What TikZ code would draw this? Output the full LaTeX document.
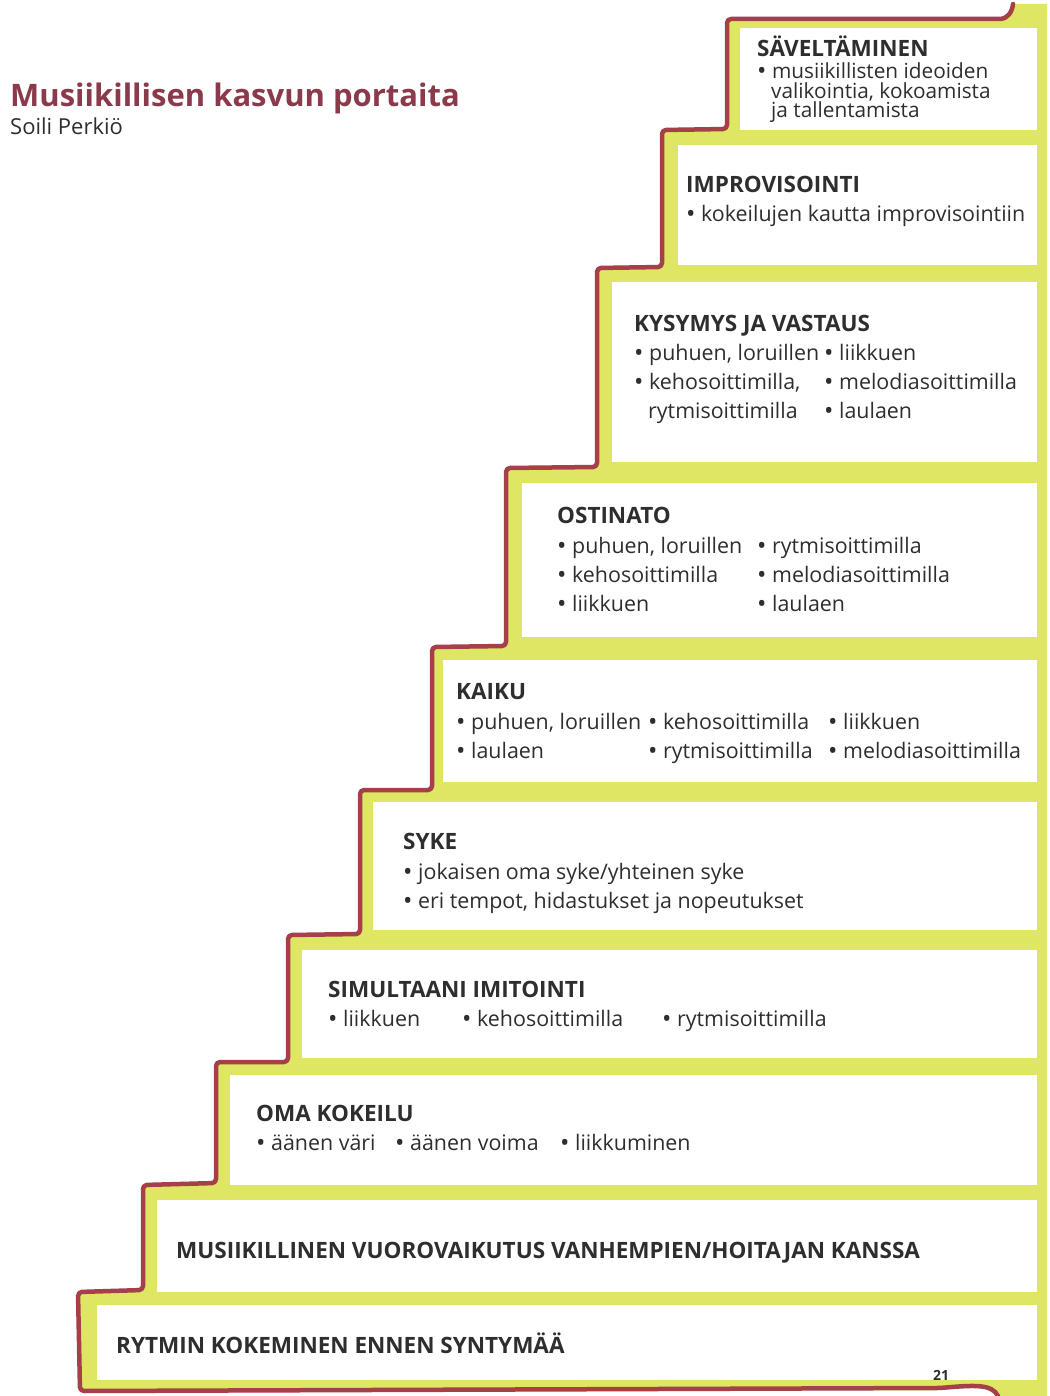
\documentclass[tikz,border=0pt]{standalone}
\usepackage{fontspec}
\setmainfont{Open Sans}
\usepackage{tikz}
\definecolor{stairyellow}{HTML}{DEE664}
\definecolor{stairred}{HTML}{A53F48}
\definecolor{titlered}{HTML}{8B3A4C}
\definecolor{ink}{HTML}{2E2E2E}
\newcommand{\stbul}{\raisebox{-1pt}{\fontsize{25}{25}\selectfont •}}
\tikzstyle{head} = [anchor=base west,inner sep=0pt,text=ink,font=\fontsize{22.5}{26}\selectfont\bfseries]
\tikzstyle{item} = [anchor=base west,inner sep=0pt,text=ink,font=\fontsize{21.4}{26}\selectfont]
\tikzstyle{itemsm} = [item,font=\fontsize{20.8}{22}\selectfont]
\tikzstyle{stepbox} = [fill=white,draw=none]
\tikzstyle{stairline} = [stairred,line width=4.5pt,line cap=round,line join=round,rounded corners=4pt]

\begin{document}
\begin{tikzpicture}[x=1pt,y=-1pt]
		\useasboundingbox (0,0) rectangle (1049,1396);
		% Yellow band behind the steps:
		\fill[stairyellow] (1047,4) -- (1047,1396) -- (998,1396)
			.. controls (992,1384) and (975,1385) .. (940,1388) -- (80,1391)
			-- (78,1292) -- (143,1290) -- (143,1185) -- (216,1183) -- (216,1062)
			-- (288,1062) -- (288,935) -- (360,934) -- (360,790) -- (432,790)
			-- (432,647) -- (506,646) -- (506,468) -- (597,467) -- (597,268)
			-- (662,267) -- (662,130) -- (727,129) -- (727,19) -- (995,19)
			.. controls (1008,19) and (1012,12) .. (1013,4) -- cycle;
		% Red hand drawn outline of the stairs:
		\draw[stairline] (998,1396)
			.. controls (992,1384) and (975,1385) .. (940,1388) -- (80,1391)
			-- (78,1292) -- (143,1290) -- (143,1185) -- (216,1183) -- (216,1062)
			-- (288,1062) -- (288,935) -- (360,934) -- (360,790) -- (432,790)
			-- (432,647) -- (506,646) -- (506,468) -- (597,467) -- (597,268)
			-- (662,267) -- (662,130) -- (727,129) -- (727,19) -- (995,19)
			.. controls (1008,19) and (1012,12) .. (1013,4);
		% White steps: left/top/bottom
		\foreach \l/\t/\b in {740/28/130,678/145/265,612/282/462,522/483/637,443/660/782,
			373/802/930,302/950/1058,230/1075/1185,157/1200/1292,97/1305/1380}{%
			\fill[stepbox] (\l,\t) rectangle (1037,\b);
		}
		
		% Title
		\node[anchor=base west,inner sep=0pt,text=titlered,font=\fontsize{31}{38}\selectfont\bfseries] (title) at (10,107) {Musiikillisen kasvun portaita};
		\node[anchor=base west,inner sep=0pt,text=ink,font=\fontsize{22}{26}\selectfont] (author) at (10,135) {Soili Perkiö};
		
		% Steps from top to bottom
		\node[head] (sav) at (757,57) {SÄVELTÄMINEN};
		\node[itemsm] (sav1) at (757,79) {\stbul\ musiikillisten ideoiden};
		\node[itemsm] (sav2) at (771,99) {valikointia, kokoamista};
		\node[itemsm] (sav3) at (771,118) {ja tallentamista};
		
		\node[head] (imp) at (686,193) {IMPROVISOINTI};
		\node[item] (imp1) at (686,222) {\stbul\ kokeilujen kautta improvisointiin};
		
		\node[head] (kys) at (634,331) {KYSYMYS JA VASTAUS};
		\node[item] (kys1) at (634,360) {\stbul\ puhuen, loruillen};
		\node[item] (kys2) at (634,389) {\stbul\ kehosoittimilla,};
		\node[item] (kys3) at (648,418) {rytmisoittimilla};
		\node[item] (kys4) at (824,360) {\stbul\ liikkuen};
		\node[item] (kys5) at (824,389) {\stbul\ melodiasoittimilla};
		\node[item] (kys6) at (824,418) {\stbul\ laulaen};
		
		\node[head] (ost) at (557,523) {OSTINATO};
		\node[item] (ost1) at (557,553) {\stbul\ puhuen, loruillen};
		\node[item] (ost2) at (557,582) {\stbul\ kehosoittimilla};
		\node[item] (ost3) at (557,611) {\stbul\ liikkuen};
		\node[item] (ost4) at (757,553) {\stbul\ rytmisoittimilla};
		\node[item] (ost5) at (757,582) {\stbul\ melodiasoittimilla};
		\node[item] (ost6) at (757,611) {\stbul\ laulaen};
		
		\node[head] (kai) at (456,699) {KAIKU};
		\node[item] (kai1) at (456,729) {\stbul\ puhuen, loruillen};
		\node[item] (kai2) at (456,758) {\stbul\ laulaen};
		\node[item] (kai3) at (648,729) {\stbul\ kehosoittimilla};
		\node[item] (kai4) at (648,758) {\stbul\ rytmisoittimilla};
		\node[item] (kai5) at (828,729) {\stbul\ liikkuen};
		\node[item] (kai6) at (828,758) {\stbul\ melodiasoittimilla};
		
		\node[head] (syk) at (403,849) {SYKE};
		\node[item] (syk1) at (403,879) {\stbul\ jokaisen oma syke/yhteinen syke};
		\node[item] (syk2) at (403,908) {\stbul\ eri tempot, hidastukset ja nopeutukset};
		
		\node[head] (sim) at (328,997) {SIMULTAANI IMITOINTI};
		\node[item] (sim1) at (328,1026) {\stbul\ liikkuen};
		\node[item] (sim2) at (462,1026) {\stbul\ kehosoittimilla};
		\node[item] (sim3) at (662,1026) {\stbul\ rytmisoittimilla};
		
		\node[head] (oma) at (256,1121) {OMA KOKEILU};
		\node[item] (oma1) at (256,1150) {\stbul\ äänen väri};
		\node[item] (oma2) at (395,1150) {\stbul\ äänen voima};
		\node[item] (oma3) at (560,1150) {\stbul\ liikkuminen};
		
		\node[head] (vuo) at (176,1258) {MUSIIKILLINEN VUOROVAIKUTUS VANHEMPIEN/HOITAJAN KANSSA};
		\node[head] (ryt) at (116,1353) {RYTMIN KOKEMINEN ENNEN SYNTYMÄÄ};
		
		% page number
		\node[anchor=base west,inner sep=0pt,text=ink,font=\fontsize{14}{16}\selectfont\bfseries] (page) at (933,1380) {21};
\end{tikzpicture}
\end{document}
